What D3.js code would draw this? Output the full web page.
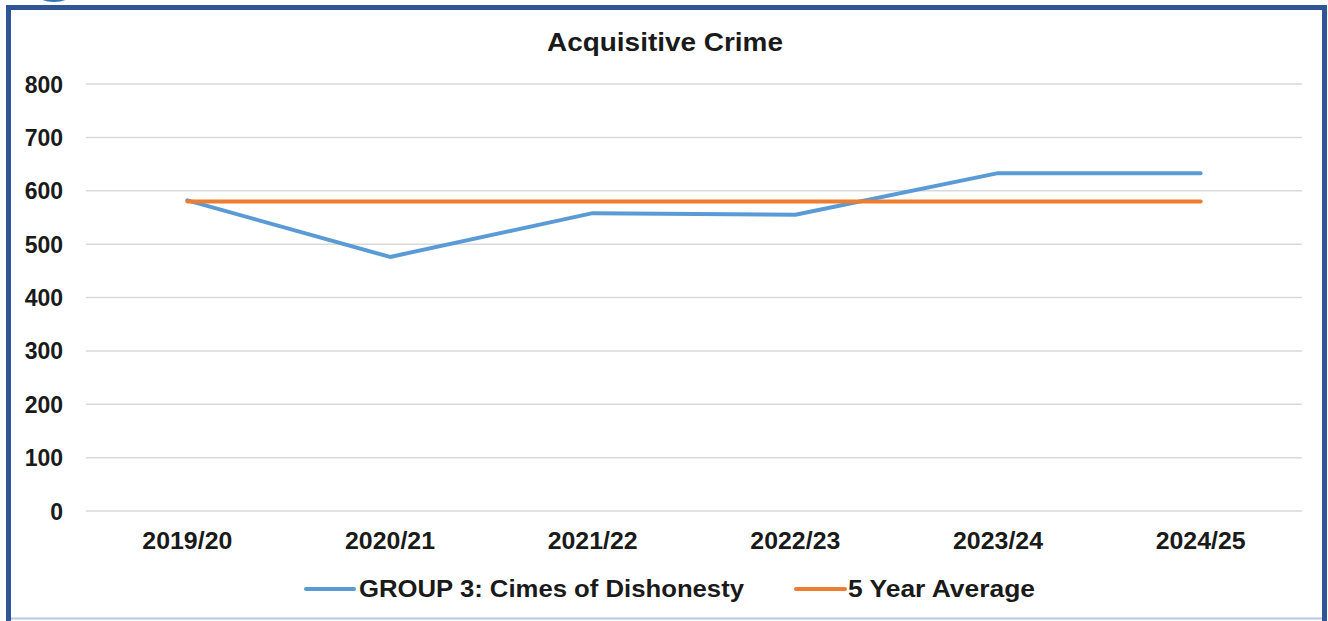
<!DOCTYPE html>
<html>
<head>
<meta charset="utf-8">
<script src="https://cdn.jsdelivr.net/npm/d3@7"></script>
<style>
  body { margin: 0; background: #fff; }
  text { font-family: "Liberation Sans", Arial, sans-serif; font-weight: bold; fill: #1a1a1a; }
</style>
</head>
<body>
<div id="chart"></div>
<script>
var width = 1328,
    height = 621;

// data
var categories = ["2019/20", "2020/21", "2021/22", "2022/23", "2023/24", "2024/25"];
var crimes = [582, 476, 558, 555, 633, 633];
var average = [580, 580, 580, 580, 580, 580];
var yTicks = [0, 100, 200, 300, 400, 500, 600, 700, 800];
var seriesNames = ["GROUP 3: Cimes of Dishonesty", "5 Year Average"];
var colors = ["#5b9bd5", "#ed7d31"];

var svg = d3.select("#chart")
    .append("svg")
    .attr("width", width)
    .attr("height", height);

// frame + bit of logo peeking in at the top
svg.append("ellipse")
    .attr("cx", 54).attr("cy", -9)
    .attr("rx", 20).attr("ry", 11)
    .style("fill", "#2e75b6");

svg.append("rect")
    .attr("x", 8.5).attr("y", 7.5)
    .attr("width", 1316).attr("height", 622)
    .style("fill", "none")
    .style("stroke", "#2f5597")
    .style("stroke-width", 5);

svg.append("line")
    .attr("x1", 11).attr("x2", 1322)
    .attr("y1", 618.5).attr("y2", 618.5)
    .style("stroke", "#b4c7e7")
    .style("stroke-width", 2);

var x = d3.scalePoint()
    .domain(categories)
    .range([86, 1302])
    .padding(0.5);

var y = d3.scaleLinear()
    .domain([0, 800])
    .range([511, 84]);

// gridlines
svg.append("g").selectAll("line")
    .data(yTicks)
    .enter().append("line")
      .attr("x1", 86).attr("x2", 1302)
      .attr("y1", function(d) { return y(d); })
      .attr("y2", function(d) { return y(d); })
      .style("stroke", "#d9d9d9")
      .style("stroke-width", 1.5);

// y labels
svg.append("g").selectAll("text")
    .data(yTicks)
    .enter().append("text")
      .attr("x", 63)
      .attr("y", function(d) { return y(d) + 8.5; })
      .attr("text-anchor", "end")
      .style("font-size", "23px")
      .text(function(d) { return d; });

// x labels
svg.append("g").selectAll("text")
    .data(categories)
    .enter().append("text")
      .attr("x", function(d) { return x(d); })
      .attr("y", 549)
      .attr("text-anchor", "middle")
      .attr("textLength", 90)
      .attr("lengthAdjust", "spacingAndGlyphs")
      .style("font-size", "23px")
      .text(function(d) { return d; });

var line = d3.line()
    .x(function(d, i) { return x(categories[i]); })
    .y(function(d) { return y(d); });

[crimes, average].forEach(function(s, i) {
  svg.append("path")
      .datum(s)
      .attr("d", line)
      .style("fill", "none")
      .style("stroke", colors[i])
      .style("stroke-width", 4)
      .style("stroke-linecap", "round")
      .style("stroke-linejoin", "round");
});

svg.append("text")
    .attr("x", 665)
    .attr("y", 51)
    .attr("text-anchor", "middle")
    .attr("textLength", 236)
    .attr("lengthAdjust", "spacingAndGlyphs")
    .style("font-size", "25px")
    .text("Acquisitive Crime");

// legend
var legend = [
  {x1: 306, x2: 354, tx: 359, tw: 385},
  {x1: 796, x2: 845, tx: 848, tw: 187}
];

var lg = svg.append("g").selectAll("g")
    .data(legend)
    .enter().append("g");

lg.append("line")
    .attr("x1", function(d) { return d.x1; })
    .attr("x2", function(d) { return d.x2; })
    .attr("y1", 589).attr("y2", 589)
    .style("stroke", function(d, i) { return colors[i]; })
    .style("stroke-width", 4)
    .style("stroke-linecap", "round");

lg.append("text")
    .attr("x", function(d) { return d.tx; })
    .attr("y", 597)
    .attr("textLength", function(d) { return d.tw; })
    .attr("lengthAdjust", "spacingAndGlyphs")
    .style("font-size", "23px")
    .text(function(d, i) { return seriesNames[i]; });
</script>
</body>
</html>
